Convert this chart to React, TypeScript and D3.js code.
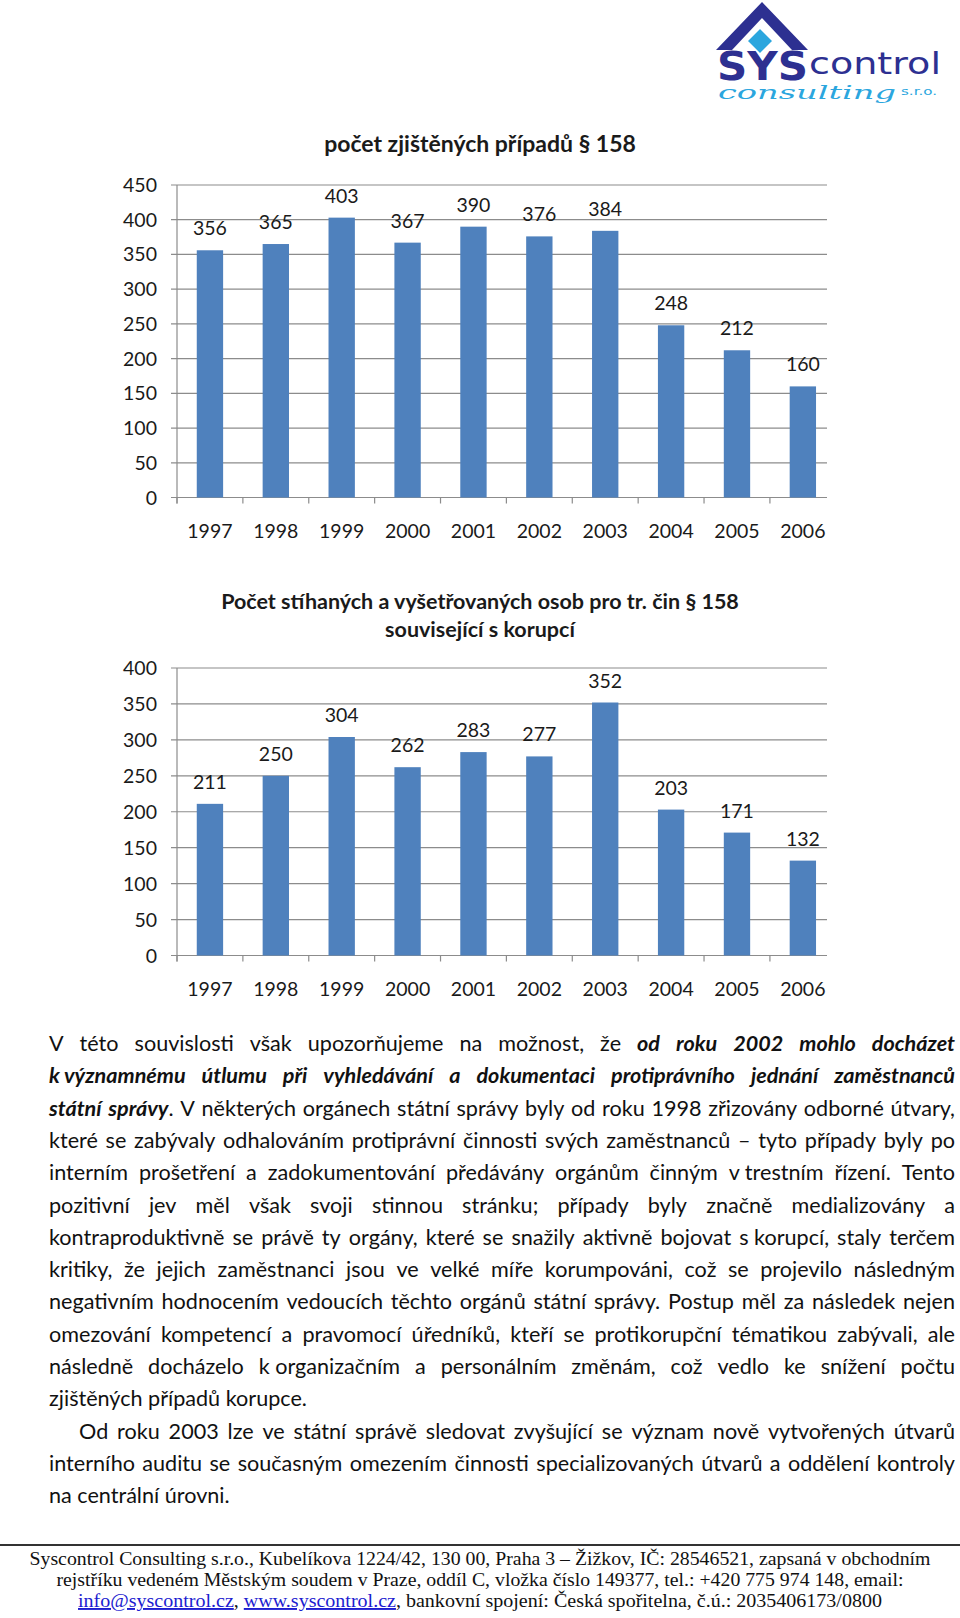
import React from 'react';
import * as d3 from 'd3';

// ---------- data ----------
const years = ['1997', '1998', '1999', '2000', '2001', '2002', '2003', '2004', '2005', '2006'];
const casesFound = [356, 365, 403, 367, 390, 376, 384, 248, 212, 160];
const personsProsecuted = [211, 250, 304, 262, 283, 277, 352, 203, 171, 132];
const casesTicks = [0, 50, 100, 150, 200, 250, 300, 350, 400, 450];
const personsTicks = [0, 50, 100, 150, 200, 250, 300, 350, 400];
const chart1Title = ['počet zjištěných případů § 158'];
const chart2Title = ['Počet stíhaných a vyšetřovaných osob pro tr. čin § 158', 'související s korupcí'];

// '*' toggles bold italic
const paragraphLines = [
  'V této souvislosti však upozorňujeme na možnost, že *od roku 2002 mohlo docházet*',
  '*k\u00A0významnému útlumu při vyhledávání a dokumentaci protiprávního jednání zaměstnanců*',
  '*státní správy*. V některých orgánech státní správy byly od roku 1998 zřizovány odborné útvary,',
  'které se zabývaly odhalováním protiprávní činnosti svých zaměstnanců – tyto případy byly po',
  'interním prošetření a zadokumentování předávány orgánům činným v\u00A0trestním řízení. Tento',
  'pozitivní jev měl však svoji stinnou stránku; případy byly značně medializovány a',
  'kontraproduktivně se právě ty orgány, které se snažily aktivně bojovat s\u00A0korupcí, staly terčem',
  'kritiky, že jejich zaměstnanci jsou ve velké míře korumpováni, což se projevilo následným',
  'negativním hodnocením vedoucích těchto orgánů státní správy. Postup měl za následek nejen',
  'omezování kompetencí a pravomocí úředníků, kteří se protikorupční tématikou zabývali, ale',
  'následně docházelo k\u00A0organizačním a personálním změnám, což vedlo ke snížení počtu',
  'zjištěných případů korupce.',
  'Od roku 2003 lze ve státní správě sledovat zvyšující se význam nově vytvořených útvarů',
  'interního auditu se současným omezením činnosti specializovaných útvarů a oddělení kontroly',
  'na centrální úrovni.',
];
const unjustifiedLines = [11, 14];
const indentedLines = [12];

// '[...]' marks a link
const footerLines = [
  'Syscontrol Consulting s.r.o., Kubelíkova 1224/42, 130 00, Praha 3 – Žižkov, IČ: 28546521, zapsaná v obchodním',
  'rejstříku vedeném Městským soudem v Praze, oddíl C, vložka číslo 149377, tel.: +420 775 974 148, email:',
  '[info@syscontrol.cz], [www.syscontrol.cz], bankovní spojení: Česká spořitelna, č.ú.: 2035406173/0800',
];
const footerWidths = [901, 847, 804];

// ---------- styling ----------
const FONT = "Lato, 'Open Sans', sans-serif";
const BAR = '#4F81BD';
const GRID = '#8C8C8C';
const TEXT = '#1a1a1a';
const PSIZE = 21.6;
const CSIZE = 19.5;

const X_LEFT = 177;
const X_RIGHT = 835.8;
const GRID_RIGHT = 827;

type ChartProps = {
  values: number[];
  ticks: number[];
  yTop: number;
  yBottom: number;
  titles: string[];
  titleY: number[];
  titleSize: number;
};

function BarChart({ values, ticks, yTop, yBottom, titles, titleY, titleSize }: ChartProps) {
  const x = d3.scaleBand<string>().domain(years).range([X_LEFT, X_RIGHT]).paddingInner(0).paddingOuter(0);
  const y = d3.scaleLinear().domain([0, ticks[ticks.length - 1]]).range([yBottom, yTop]);
  const bw = x.bandwidth() * 0.4;
  return (
    <g fontFamily={FONT}>
      {titles.map((t, i) => (
        <text key={i} x={480} y={titleY[i]} textAnchor="middle" fontWeight="bold" fontSize={titleSize} fill={TEXT}>
          {t}
        </text>
      ))}
      {ticks.map((t) => (
        <g key={t}>
          <line x1={X_LEFT - 6} x2={GRID_RIGHT} y1={y(t)} y2={y(t)} stroke={GRID} strokeWidth={1.2} />
          <text x={157} y={y(t) + 7} textAnchor="end" fontSize={CSIZE} fill={TEXT}>
            {t}
          </text>
        </g>
      ))}
      <line x1={X_LEFT} x2={X_LEFT} y1={yTop} y2={yBottom + 6} stroke={GRID} strokeWidth={1.2} />
      {years.map((yr) => (
        <line key={'t' + yr} x1={x(yr)!} x2={x(yr)!} y1={yBottom} y2={yBottom + 6} stroke={GRID} strokeWidth={1.2} />
      ))}
      {years.map((yr, i) => {
        const cx = x(yr)! + x.bandwidth() / 2;
        return (
          <g key={yr}>
            <rect x={cx - bw / 2} y={y(values[i])} width={bw} height={yBottom - y(values[i])} fill={BAR} />
            <text x={cx} y={y(values[i]) - 15} textAnchor="middle" fontSize={CSIZE} fill={TEXT}>
              {values[i]}
            </text>
            <text x={cx} y={yBottom + 40} textAnchor="middle" fontSize={CSIZE} fill={TEXT}>
              {yr}
            </text>
          </g>
        );
      })}
    </g>
  );
}

type Run = { t: string; bi: boolean };

function parseLine(s: string): Run[][] {
  const words: Run[][] = [];
  let bi = false;
  let cur: Run[] = [];
  let buf = '';
  const flush = () => {
    if (buf) cur.push({ t: buf, bi });
    buf = '';
  };
  for (const ch of s) {
    if (ch === '*') {
      flush();
      bi = !bi;
    } else if (ch === ' ') {
      flush();
      if (cur.length) words.push(cur);
      cur = [];
    } else buf += ch;
  }
  flush();
  if (cur.length) words.push(cur);
  return words;
}

let ctx: CanvasRenderingContext2D | null = null;
function measure(t: string, bi: boolean) {
  if (!ctx) ctx = document.createElement('canvas').getContext('2d');
  ctx!.font = `${bi ? 'italic bold ' : ''}${PSIZE}px Lato`;
  return ctx!.measureText(t).width;
}

function Paragraph() {
  const left = 49;
  const right = 955;
  const base = 1051;
  const step = 32.3;
  const spaceW = measure(' ', false);
  return (
    <g fontFamily="Lato" fontSize={PSIZE} fill="#111">
      {paragraphLines.map((line, li) => {
        const words = parseLine(line);
        const widths = words.map((w) => w.reduce((s, r) => s + measure(r.t, r.bi), 0));
        const x0 = indentedLines.includes(li) ? 79 : left;
        const total = widths.reduce((a, b) => a + b, 0);
        const gap = unjustifiedLines.includes(li) ? spaceW : (right - x0 - total) / (words.length - 1);
        let cx = x0;
        return (
          <g key={li}>
            {words.map((w, wi) => {
              const xx = cx;
              cx += widths[wi] + gap;
              return (
                <text key={wi} x={xx} y={base + li * step} style={{ whiteSpace: 'pre' }}>
                  {w.map((r, ri) => (
                    <tspan key={ri} fontWeight={r.bi ? 'bold' : 'normal'} fontStyle={r.bi ? 'italic' : 'normal'}>
                      {r.t}
                    </tspan>
                  ))}
                </text>
              );
            })}
          </g>
        );
      })}
    </g>
  );
}

function Footer() {
  const ys = [1565, 1586, 1607];
  return (
    <g fontFamily="'Liberation Serif', serif" fontSize={19} fill="#111">
      <line x1={0} x2={960} y1={1545} y2={1545} stroke="#333" strokeWidth={2} />
      {footerLines.map((line, i) => {
        const parts = line.split(/(\[[^\]]+\])/).filter((p) => p.length);
        return (
          <text
            key={i}
            x={480}
            y={ys[i]}
            textAnchor="middle"
            textLength={footerWidths[i]}
            lengthAdjust="spacingAndGlyphs"
            style={{ whiteSpace: 'pre' }}
          >
            {parts.map((p, pi) =>
              p.startsWith('[') ? (
                <tspan key={pi} fill="#1c1cd0" textDecoration="underline">
                  {p.slice(1, -1)}
                </tspan>
              ) : (
                <tspan key={pi}>{p}</tspan>
              )
            )}
          </text>
        );
      })}
    </g>
  );
}

function Logo() {
  const navy = '#2D3091';
  const light = '#2BA6DE';
  return (
    <g transform="translate(700,0)">
      <polygon points="62,2 108,50 92,50 62,18 32,50 16,50" fill={navy} />
      <polygon points="60,28 73,41 60,54 47,41" fill={light} stroke="#fff" strokeWidth={1.5} />
      <text x={17} y={80} fontFamily="'DejaVu Sans', sans-serif" fontWeight="bold" fontSize={39} fill={navy}
        textLength={91} lengthAdjust="spacingAndGlyphs">SYS</text>
      <text x={109} y={74} fontFamily="'DejaVu Sans', sans-serif" fontSize={31} fill={navy}
        textLength={132} lengthAdjust="spacingAndGlyphs">control</text>
      <text x={18} y={99} fontFamily="'DejaVu Serif', serif" fontStyle="italic" fontSize={18} fill={light}
        textLength={178} lengthAdjust="spacingAndGlyphs">consulting</text>
      <text x={201} y={95} fontFamily="'DejaVu Sans', sans-serif" fontSize={11} fill={light}
        textLength={36} lengthAdjust="spacingAndGlyphs">s.r.o.</text>
    </g>
  );
}

export default function App() {
  return (
    <svg
      width={960}
      height={1618}
      viewBox="0 0 960 1618"
      style={{ position: 'absolute', left: 0, top: 0, display: 'block', background: '#fff' }}
    >
      <rect width={960} height={1618} fill="#fff" />
      <Logo />
      <BarChart values={casesFound} ticks={casesTicks} yTop={185} yBottom={497.5} titles={chart1Title} titleY={[152]} titleSize={23} />
      <BarChart values={personsProsecuted} ticks={personsTicks} yTop={668} yBottom={955.5} titles={chart2Title} titleY={[609, 637]} titleSize={21.5} />
      <Paragraph />
      <Footer />
    </svg>
  );
}
